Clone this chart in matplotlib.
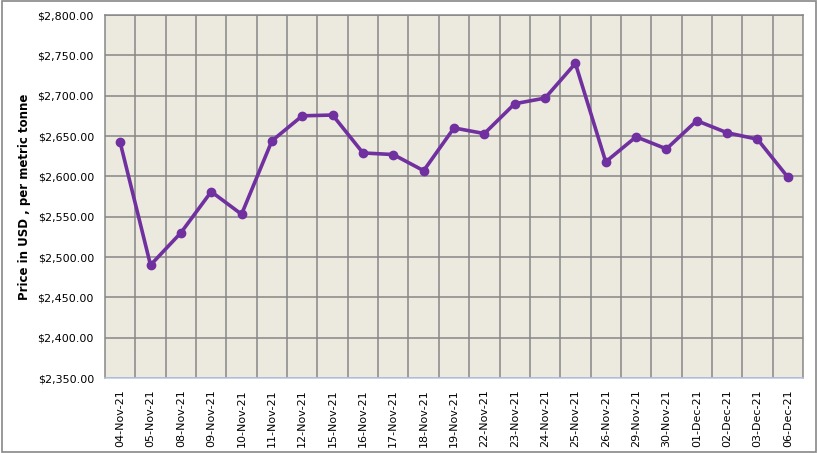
import matplotlib
matplotlib.use("Agg")
import matplotlib.pyplot as plt
from matplotlib.ticker import FuncFormatter, MultipleLocator
from matplotlib.patches import Rectangle

dates = ["04-Nov-21", "05-Nov-21", "08-Nov-21", "09-Nov-21", "10-Nov-21", "11-Nov-21",
         "12-Nov-21", "15-Nov-21", "16-Nov-21", "17-Nov-21", "18-Nov-21", "19-Nov-21",
         "22-Nov-21", "23-Nov-21", "24-Nov-21", "25-Nov-21", "26-Nov-21", "29-Nov-21",
         "30-Nov-21", "01-Dec-21", "02-Dec-21", "03-Dec-21", "06-Dec-21"]
prices = [2642, 2490, 2530, 2581, 2553, 2644, 2675, 2676, 2629, 2627, 2607, 2660,
          2653, 2690, 2697, 2740, 2618, 2649, 2634, 2669, 2654, 2646, 2599]

plt.rcParams['font.family'] = ['DejaVu Sans']

fig = plt.figure(figsize=(8.18, 4.53), dpi=100)
fig.patch.set_facecolor('white')
fig.patches.append(Rectangle((0.002, 0.003), 0.996, 0.994, transform=fig.transFigure,
                             fill=False, edgecolor='#888888', linewidth=1.2))

ax = fig.add_axes([105/818, 75/453, 698/818, 363/453])
ax.set_facecolor('#ECE9DF')
x = list(range(len(dates)))
ax.plot(x, prices, color='#7030A0', linewidth=2.6, marker='o', markersize=6, zorder=3)

ax.set_xlim(-0.5, len(dates) - 0.5)
ax.set_ylim(2350, 2800)
ax.yaxis.set_major_locator(MultipleLocator(50))
ax.yaxis.set_major_formatter(FuncFormatter(lambda v, p: f"${v:,.2f}"))
ax.set_xticks(x)
ax.set_xticklabels(dates, rotation=90, fontsize=8)
ax.set_xticks([i + 0.5 for i in range(len(dates) - 1)], minor=True)
ax.tick_params(axis='y', labelsize=8, length=0, pad=8)
ax.tick_params(axis='x', which='both', length=0, pad=8)
ax.grid(axis='y', which='major', color='#878787', linewidth=1.1)
ax.grid(axis='x', which='minor', color='#878787', linewidth=1.1)
ax.grid(axis='x', which='major', visible=False)
for s in ['top', 'right', 'left']:
    ax.spines[s].set_color('#878787')
    ax.spines[s].set_linewidth(1.1)
ax.spines['bottom'].set_color('#B8C8E8')
ax.spines['bottom'].set_linewidth(1.1)
ax.set_ylabel('Price in USD , per metric tonne', fontsize=8.5, fontweight='bold', labelpad=5)

fig.savefig('out.png', dpi=100)
